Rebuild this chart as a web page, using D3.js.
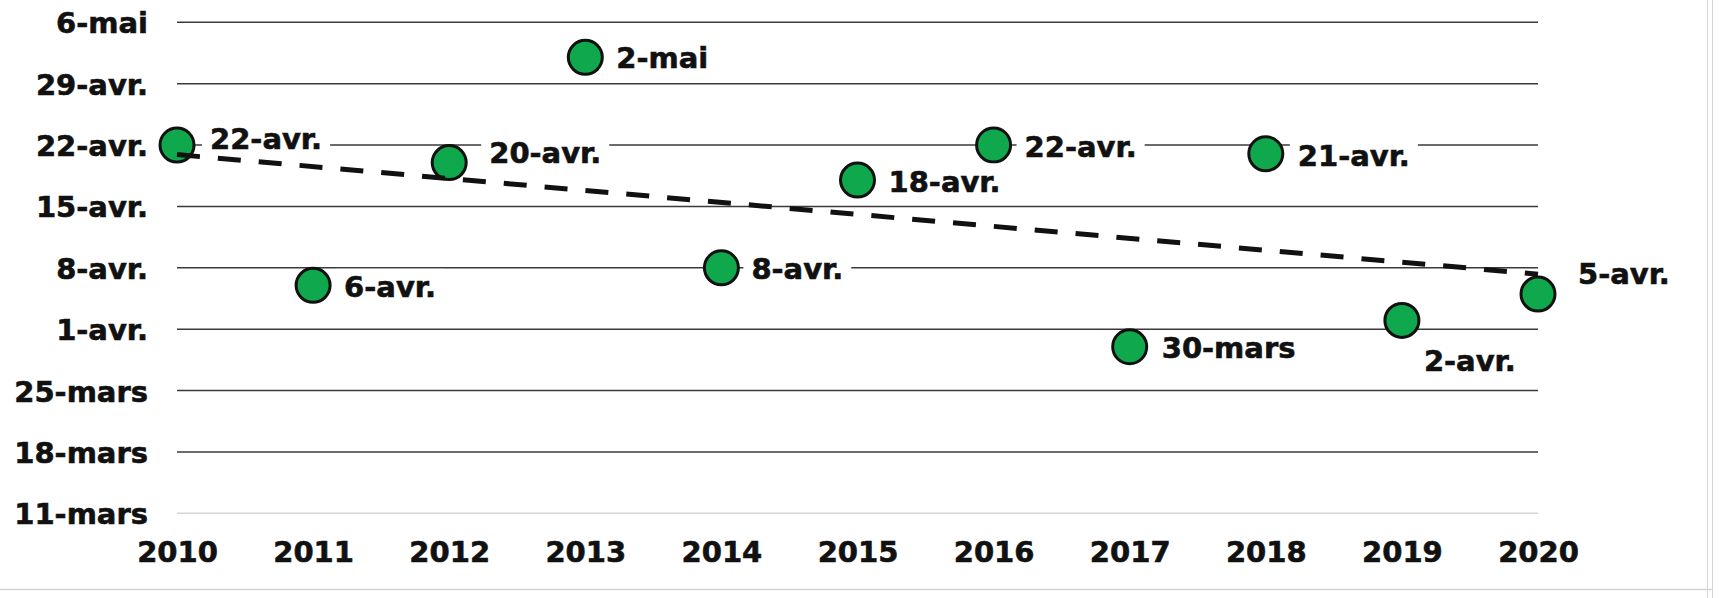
<!DOCTYPE html>
<html>
<head>
<meta charset="utf-8">
<script src="https://cdn.jsdelivr.net/npm/d3@7"></script>
<style>
  html, body { margin: 0; padding: 0; background: #fff; }
  svg { display: block; font-family: "DejaVu Sans", Verdana, sans-serif; font-weight: bold; }
</style>
</head>
<body>
<div id="graphique"></div>
<script>
// Données : années et dates observées (jour-mois)
const annees = [2010, 2011, 2012, 2013, 2014, 2015, 2016, 2017, 2018, 2019, 2020];
const dates = ['04-22', '04-06', '04-20', '05-02', '04-08', '04-18', '04-22', '03-30', '04-21', '04-02', '04-05'];
const ticksY = ['03-11', '03-18', '03-25', '04-01', '04-08', '04-15', '04-22', '04-29', '05-06'];

// Placement des étiquettes (décalage par rapport au point)
const decalages = {
  2010: [33, -7], 2011: [31, 1], 2012: [40, -10], 2013: [31, 0], 2014: [30, 1],
  2015: [31, 1], 2016: [31, 1], 2017: [32, 1], 2018: [32, 2], 2019: [22, 40], 2020: [40, -21]
};

const largeur = 1725;
const hauteur = 598;
const taille = '29px';

const fr = d3.timeFormatLocale({
  dateTime: '%A %e %B %Y à %X', date: '%d/%m/%Y', time: '%H:%M:%S',
  periods: ['AM', 'PM'],
  days: ['dimanche', 'lundi', 'mardi', 'mercredi', 'jeudi', 'vendredi', 'samedi'],
  shortDays: ['dim.', 'lun.', 'mar.', 'mer.', 'jeu.', 'ven.', 'sam.'],
  months: ['janvier', 'février', 'mars', 'avril', 'mai', 'juin', 'juillet', 'août', 'septembre', 'octobre', 'novembre', 'décembre'],
  shortMonths: ['janv.', 'févr.', 'mars', 'avr.', 'mai', 'juin', 'juil.', 'août', 'sept.', 'oct.', 'nov.', 'déc.']
});
const formatJour = fr.format('%-d-%b');
const versDate = s => new Date(2000, +s.slice(0, 2) - 1, +s.slice(3, 5));

const points = annees.map((a, i) => ({ annee: a, date: versDate(dates[i]) }));
const valeursTicks = ticksY.map(versDate);

const svg = d3.select('#graphique')
  .append('svg')
  .attr('width', largeur)
  .attr('height', hauteur);

const x = d3.scaleLinear().domain([2010, 2020]).range([177, 1538]);
const y = d3.scaleTime()
  .domain([valeursTicks[0], valeursTicks[valeursTicks.length - 1]])
  .range([513.3, 22.3]);

// Décor de la feuille Excel (bords)
svg.append('line').attr('x1', 0).attr('x2', 1712).attr('y1', 589.5).attr('y2', 589.5)
  .attr('stroke', '#d4d4d4').attr('stroke-width', 1.5);
svg.append('line').attr('x1', 1707.5).attr('x2', 1707.5).attr('y1', 0).attr('y2', 598)
  .attr('stroke', '#d4d4d4').attr('stroke-width', 1);
svg.append('line').attr('x1', 1712.5).attr('x2', 1712.5).attr('y1', 0).attr('y2', 598)
  .attr('stroke', '#d4d4d4').attr('stroke-width', 1);

// Quadrillage horizontal
svg.append('g')
  .selectAll('line')
  .data(valeursTicks)
  .join('line')
  .attr('x1', x(2010))
  .attr('x2', x(2020))
  .attr('y1', d => y(d))
  .attr('y2', d => y(d))
  .attr('stroke', (d, i) => i === 0 ? '#d6d6d6' : '#3a3a3a')
  .attr('stroke-width', 1.6);

function styleTexte(sel) {
  sel.style('font-family', '"DejaVu Sans", Verdana, sans-serif')
    .style('font-weight', 'bold')
    .style('font-size', taille)
    .attr('fill', '#111')
    .attr('stroke', '#111')
    .attr('stroke-width', 0.6);
}

// Axe Y (étiquettes)
const axeY = svg.append('g')
  .attr('transform', 'translate(148,0)')
  .call(d3.axisLeft(y).tickValues(valeursTicks).tickFormat(formatJour).tickSize(0).tickPadding(0));
axeY.select('.domain').remove();
axeY.selectAll('text')
  .attr('dy', null)
  .attr('y', 10.5)
  .call(styleTexte);

// Axe X (années)
const axeX = svg.append('g')
  .attr('transform', 'translate(0,561.5)')
  .call(d3.axisBottom(x).tickValues(annees).tickFormat(d3.format('d')).tickSize(0).tickPadding(0));
axeX.select('.domain').remove();
axeX.selectAll('text')
  .attr('dy', null)
  .attr('y', 0)
  .call(styleTexte);

// Points
svg.append('g')
  .selectAll('circle')
  .data(points)
  .join('circle')
  .attr('cx', d => x(d.annee))
  .attr('cy', d => y(d.date))
  .attr('r', 17)
  .attr('fill', '#10a84c')
  .attr('stroke', '#111')
  .attr('stroke-width', 3);

// Étiquettes de données avec fond blanc
const etiquettes = svg.append('g')
  .selectAll('g')
  .data(points)
  .join('g')
  .attr('transform', d => {
    const [dx, dy] = decalages[d.annee];
    return `translate(${x(d.annee) + dx},${y(d.date) + dy})`;
  });

etiquettes.append('rect');
etiquettes.append('text')
  .attr('x', 0)
  .attr('y', 10.5)
  .call(styleTexte)
  .text(d => formatJour(d.date));

etiquettes.each(function() {
  const g = d3.select(this);
  const b = g.select('text').node().getBBox();
  g.select('rect')
    .attr('x', b.x - 8)
    .attr('y', b.y - 1)
    .attr('width', b.width + 16)
    .attr('height', b.height)
    .attr('fill', '#fff');
});

// Courbe de tendance linéaire (moindres carrés)
const jours = points.map(d => d3.timeDay.count(valeursTicks[0], d.date));
const mx = d3.mean(annees);
const my = d3.mean(jours);
const pente = d3.sum(annees, (a, i) => (a - mx) * (jours[i] - my)) / d3.sum(annees, a => (a - mx) ** 2);
const tendance = [2010, 2020].map(a => {
  const j = my + pente * (a - mx);
  return { annee: a, date: new Date(valeursTicks[0].getTime() + j * 864e5) };
});

const ligne = d3.line()
  .x(d => x(d.annee))
  .y(d => y(d.date));

svg.append('path')
  .datum(tendance)
  .attr('fill', 'none')
  .attr('stroke', '#111')
  .attr('stroke-width', 5)
  .attr('stroke-dasharray', '23,18')
  .attr('d', ligne);
</script>
</body>
</html>
